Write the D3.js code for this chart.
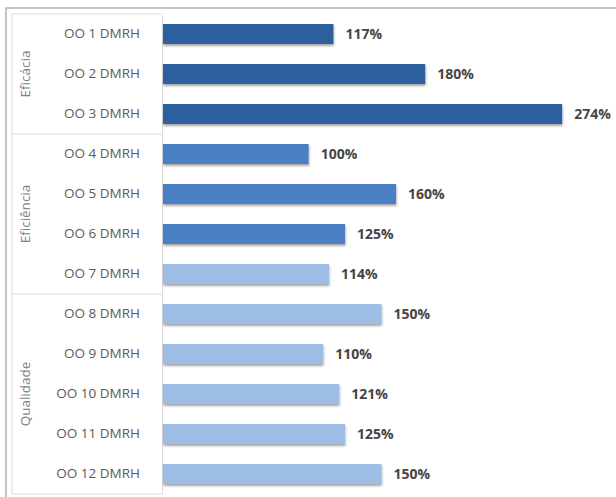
<!DOCTYPE html>
<html>
<head>
<meta charset="utf-8">
<script src="https://cdn.jsdelivr.net/npm/d3@7/dist/d3.min.js"></script>
<style>
  html, body { margin: 0; padding: 0; background: #ffffff; }
  svg { display: block; }
</style>
</head>
<body>
<script>
// Objetivos operacionais DMRH – taxa de realização
const categorias = ["OO 1 DMRH", "OO 2 DMRH", "OO 3 DMRH", "OO 4 DMRH", "OO 5 DMRH", "OO 6 DMRH",
                    "OO 7 DMRH", "OO 8 DMRH", "OO 9 DMRH", "OO 10 DMRH", "OO 11 DMRH", "OO 12 DMRH"];
const valores = [117, 180, 274, 100, 160, 125, 114, 150, 110, 121, 125, 150];
const grupos = ["Eficácia", "Eficácia", "Eficácia",
                "Eficiência", "Eficiência", "Eficiência", "Eficiência",
                "Qualidade", "Qualidade", "Qualidade", "Qualidade", "Qualidade"];
const niveis = [1, 1, 1, 2, 2, 2, 3, 3, 3, 3, 3, 3];

const W = 616, H = 497;
const svg = d3.select("body").append("svg").attr("width", W).attr("height", H);

const defs = svg.append("defs");
const f = defs.append("filter").attr("id", "sombra")
  .attr("x", "-5%").attr("y", "-30%").attr("width", "110%").attr("height", "180%");
f.append("feDropShadow").attr("dx", 0.5).attr("dy", 2).attr("stdDeviation", 1.2)
  .attr("flood-color", "#000").attr("flood-opacity", 0.35);

const boxLeft = 12, axisX = 162, yTop = 14, yBottom = 494;

const x = d3.scaleLinear().domain([0, 300]).range([axisX + 1, 600]);
const y = d3.scaleBand().domain(categorias).range([yTop, yBottom]).paddingInner(0.5).paddingOuter(0.25);
const cor = d3.scaleOrdinal().domain([1, 2, 3]).range(["#2f5f9d", "#4b7fc3", "#9dbde5"]);

// moldura exterior
svg.append("rect").attr("x", 6).attr("y", 8).attr("width", W + 10).attr("height", H + 10)
  .attr("fill", "none").attr("stroke", "#b3b3b3").attr("stroke-width", 1.5);

// caixa das categorias
const caixa = svg.append("g").attr("stroke", "#dcdcdc").attr("stroke-width", 1).attr("fill", "none");
caixa.append("line").attr("x1", boxLeft).attr("x2", axisX).attr("y1", yTop).attr("y2", yTop);
caixa.append("line").attr("x1", boxLeft).attr("x2", boxLeft).attr("y1", yTop).attr("y2", yBottom);
caixa.append("line").attr("x1", boxLeft).attr("x2", axisX).attr("y1", yBottom).attr("y2", yBottom);

// grupos (rótulos verticais e separadores)
const half = y.step() * y.paddingInner() / 2;
const blocos = d3.groups(categorias.map((c, i) => ({ c, g: grupos[i] })), d => d.g);
blocos.forEach(([nome, itens], k) => {
  const first = itens[0].c, last = itens[itens.length - 1].c;
  const y0 = k === 0 ? yTop : y(first) - half;
  const y1 = k === blocos.length - 1 ? yBottom : y(last) + y.bandwidth() + half;
  if (k > 0) {
    caixa.append("line").attr("x1", boxLeft).attr("x2", axisX).attr("y1", y0).attr("y2", y0);
  }
  svg.append("text")
    .attr("transform", `translate(30,${(y0 + y1) / 2}) rotate(-90)`)
    .attr("text-anchor", "middle")
    .attr("font-family", "Open Sans, sans-serif")
    .attr("font-size", 13.5)
    .attr("fill", "#808080")
    .text(nome);
});

// eixo das categorias
const eixo = svg.append("g").attr("transform", `translate(${axisX},0)`)
  .call(d3.axisLeft(y).tickSize(0).tickPadding(22));
eixo.select(".domain").attr("stroke", "#dcdcdc");
eixo.selectAll("text")
  .attr("font-family", "Open Sans, sans-serif")
  .attr("font-size", 13.5)
  .attr("fill", "#5a5a5a");

// barras
svg.append("g").selectAll("rect").data(valores).join("rect")
  .attr("x", x(0))
  .attr("y", (d, i) => y(categorias[i]))
  .attr("width", d => x(d) - x(0))
  .attr("height", y.bandwidth())
  .attr("fill", (d, i) => cor(niveis[i]))
  .attr("filter", "url(#sombra)");

// valores
svg.append("g").selectAll("text").data(valores).join("text")
  .attr("x", d => x(d) + 12)
  .attr("y", (d, i) => y(categorias[i]) + y.bandwidth() / 2)
  .attr("dy", "0.36em")
  .attr("font-family", "Open Sans, sans-serif")
  .attr("font-weight", "bold")
  .attr("font-size", 14)
  .attr("fill", "#454545")
  .text(d => d + "%");
</script>
</body>
</html>
